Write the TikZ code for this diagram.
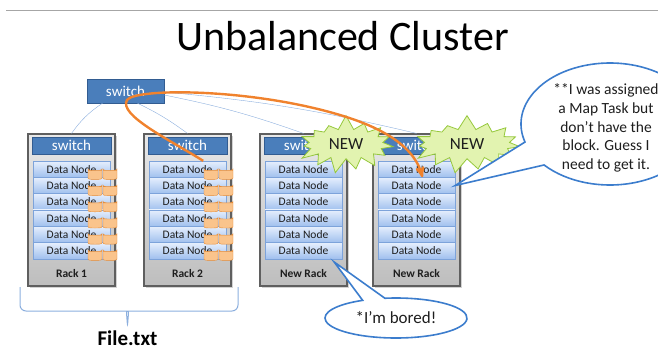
\documentclass[tikz,border=0pt]{standalone}
\usepackage{fontspec}
\setmainfont{Carlito}
\usetikzlibrary{arrows,shapes.geometric,shapes.symbols,shadows}
\definecolor{rack_gray}{RGB}{190,190,190}
\definecolor{rack_light}{RGB}{232,232,232}
\definecolor{rack_line}{RGB}{95,95,95}
\definecolor{switch_blue}{RGB}{74,126,187}
\definecolor{switch_line}{RGB}{50,92,145}
\definecolor{dn_top}{RGB}{230,239,253}
\definecolor{dn_bottom}{RGB}{160,192,238}
\definecolor{dn_line}{RGB}{125,163,218}
\definecolor{disk_fill}{RGB}{250,196,140}
\definecolor{disk_line}{RGB}{230,140,55}
\definecolor{link_blue}{RGB}{140,175,222}
\definecolor{path_orange}{RGB}{240,130,45}
\definecolor{star_fill}{RGB}{226,243,176}
\definecolor{star_line}{RGB}{150,200,60}
\definecolor{bubble_blue}{RGB}{60,125,205}
\definecolor{text_dark}{RGB}{30,30,30}

\begin{document}
\begin{tikzpicture}[x=1pt,y=-1pt,>=stealth']
    \tikzstyle{topswitch}=[draw=switch_line, fill=switch_blue, text=white, minimum width=77pt, minimum height=24pt, inner sep=0pt, font=\fontsize{15}{17}\selectfont]
    \tikzstyle{rack}=[draw=rack_line, line width=1.2pt, top color=rack_light, bottom color=rack_gray, minimum width=87pt, minimum height=152pt, inner sep=0pt, drop shadow={shadow xshift=1.5pt, shadow yshift=-1.5pt, opacity=0.35}]
    \tikzstyle{rackswitch}=[draw=switch_line, fill=switch_blue, text=white, minimum width=79pt, minimum height=17pt, inner sep=0pt, font=\fontsize{15}{17}\selectfont]
    \tikzstyle{datanode}=[draw=dn_line, top color=dn_top, bottom color=dn_bottom, minimum width=77pt, minimum height=16.3pt, inner sep=0pt, text=text_dark, font=\fontsize{11.5}{13}\selectfont]
    \tikzstyle{racklabel}=[text=text_dark, font=\fontsize{11.5}{13}\selectfont\bfseries]
    \tikzstyle{disk}=[cylinder, shape border rotate=90, aspect=0.3, draw=disk_line, fill=disk_fill, minimum width=14pt, minimum height=9pt, inner sep=0pt, rounded corners=1.5pt]
    \tikzstyle{link}=[draw=link_blue, thin]
    \tikzstyle{burst}=[starburst, starburst points=15, starburst point height=15pt, random starburst=7, draw=star_line, fill=star_fill, line width=0.8pt, inner xsep=9pt, inner ysep=5pt, text=text_dark, font=\fontsize{17}{19}\selectfont]
    \tikzstyle{bubble}=[draw=bubble_blue, line width=1.6pt, fill=white]

    \useasboundingbox (0,0) rectangle (658,349);
    \draw[gray!70] (6,10) -- (658,10);
    \node[anchor=base, font=\fontsize{42}{50}\selectfont] (title) at (342.5,50) {Unbalanced Cluster};

    \node[topswitch] (topsw) at (125.5,91) {switch};

    % racks with their data nodes
    \foreach \r/\x/\lab in {1/28/Rack 1, 2/144/Rack 2, 3/260/New Rack, 4/373/New Rack} {
      \node[rack] (rack\r) at (\x+43.5,210) {};
      \node[rackswitch] (sw\r) at (\x+43.5,145.5) {switch};
      \foreach \j in {1,...,6}
        \node[datanode] (dn\r\j) at (\x+43.5,{169.2+16.3*(\j-1)}) {Data Node};
      \node[racklabel] (lab\r) at (\x+43.5,273) {\lab};
    }

    % blocks of File.txt
    \foreach \r/\x in {1/28, 2/144}
      \foreach \j in {1,...,6} {
        \node[disk] (da\r\j) at (\x+67,{175+16.2*(\j-1)}) {};
        \node[disk] (db\r\j) at (\x+82,{175+16.2*(\j-1)}) {};
      }

    \path[link]
     ([xshift=-23pt]topsw.south) edge[bend right=10] (rack1.north)
     ([xshift=12pt]topsw.south)  edge[bend left=5] (rack2.north)
     ([yshift=-4pt]topsw.east)   edge[bend left=4] (rack3.north)
     ([yshift=-1pt]topsw.east)   edge[bend left=4] (rack4.north)
     ;

    \node[burst] (new1) at (346,144) {NEW};
    \node[burst, inner xsep=13pt] (new2) at (467,144) {NEW};

    \draw[path_orange, line width=2.4pt, ->]
      ([xshift=-23pt]dn21.north east) .. controls (170,140) and (118,115) .. (127,100)
      .. controls (135,88) and (250,88) .. (340,115)
      .. controls (390,130) and (415,150) .. ([xshift=6pt]dn42.north);

    % speech bubbles
    \draw[bubble] ([shift={(162.8:89 and 61)}]610,124) arc[start angle=162.8, end angle=497.8, x radius=89, y radius=61] -- (dn42.east) -- cycle;
    \node[align=center, text=text_dark, font=\fontsize{15.5}{18.7}\selectfont] (ask) at (606,128) {**I was assigned\\a Map Task but\\don’t have the\\block. Guess I\\need to get it.};

    \draw[bubble] ([shift={(261:71 and 20)}]396,318) arc[start angle=261, end angle=602, x radius=71, y radius=20] -- ([xshift=-8pt,yshift=-3pt]dn36.south east) -- cycle;
    \node[text=text_dark, font=\fontsize{17}{19}\selectfont] (bored) at (396,318) {*I’m bored!};

    % brace under the old racks
    \draw[link_blue, line width=1pt, rounded corners=6pt] (20,287) -- (20,311) -- (121,311)
      .. controls (126,311) and (127,318) .. (127.5,328)
      .. controls (128,318) and (129,311) .. (134,311) -- (238,311) -- (238,287);
    \node[anchor=base, font=\fontsize{21}{23}\selectfont\bfseries] (file) at (127.5,345) {File.txt};
\end{tikzpicture}
\end{document}
